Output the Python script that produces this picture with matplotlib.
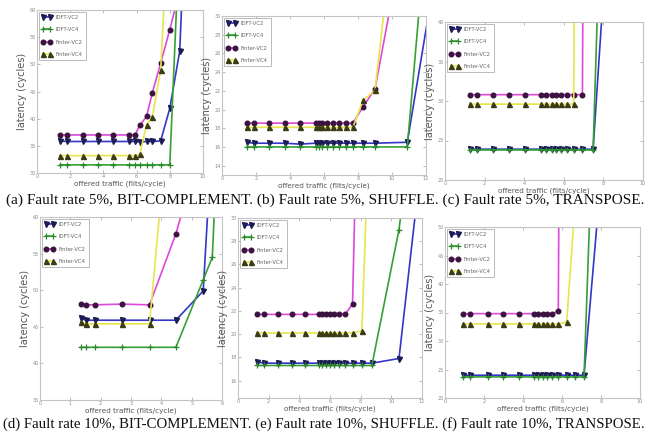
import matplotlib
matplotlib.use("Agg")
import matplotlib.pyplot as plt

W, H = 656, 434

labels = ["IDFT-VC2", "IDFT-VC4", "Finter-VC2", "Finter-VC4"]

# (a) fault rate 5%, bit-complement
a_x = [1.4, 1.8, 2.75, 3.7, 4.6, 5.55, 5.9, 6.2, 6.6, 6.95, 7.45, 8.0, 8.6, 9.2]
a_idft_vc2 = [35.9, 35.8, 35.8, 35.8, 35.8, 35.8, 35.8, 35.7, 35.8, 35.8, 35.9, 41.9, 52.5, 97.0]
a_idft_vc4 = [31.5, 31.5, 31.5, 31.5, 31.5, 31.5, 31.5, 31.5, 31.5, 31.5, 31.5, 31.5, 74.5]
a_finter_vc2 = [37.0, 37.0, 37.0, 37.0, 37.0, 37.0, 37.0, 38.8, 40.4, 44.8, 50.2, 56.4, 63.6]
a_finter_vc4 = [33.2, 33.2, 33.2, 33.2, 33.2, 33.2, 33.2, 33.5, 38.9, 40.3, 49.0, 81.0]

# (b) fault rate 5%, shuffle
b_x = [1.47, 1.86, 2.75, 3.7, 4.6, 5.5, 5.7, 5.9, 6.2, 6.5, 6.9, 7.3, 7.7, 8.3, 9.0, 10.9, 12.5]
b_idft_vc2 = [16.5, 16.4, 16.4, 16.4, 16.3, 16.4, 16.4, 16.4, 16.4, 16.4, 16.4, 16.4, 16.4, 16.4, 16.4, 16.5, 34.0]
b_idft_vc4 = [16.0, 16.0, 16.0, 16.0, 16.0, 16.0, 16.0, 16.0, 16.0, 16.0, 16.0, 16.0, 16.0, 16.0, 16.0, 16.0, 49.6]
b_finter_vc2 = [18.55, 18.55, 18.55, 18.55, 18.55, 18.55, 18.55, 18.55, 18.55, 18.55, 18.55, 18.55, 18.55, 20.3, 22.2, 40.7]
b_finter_vc4 = [18.1, 18.1, 18.1, 18.1, 18.1, 18.1, 18.1, 18.1, 18.1, 18.1, 18.1, 18.1, 18.1, 21.0, 22.05, 52.3]

# (c) fault rate 5%, transpose
c_x = [1.26, 1.6, 2.4, 3.24, 4.05, 4.87, 5.12, 5.38, 5.63, 5.88, 6.17, 6.5, 6.94, 7.48, 8.3]
c_idft_vc2 = [23.9, 23.9, 23.9, 23.9, 23.9, 23.9, 23.9, 23.9, 23.9, 23.9, 23.9, 23.9, 23.9, 23.9, 55.0]
c_idft_vc4 = [23.8, 23.8, 23.8, 23.8, 23.8, 23.8, 23.8, 23.8, 23.8, 23.8, 23.8, 23.8, 23.8, 23.8, 90.0]
c_finter_vc2 = [30.8, 30.8, 30.8, 30.8, 30.8, 30.8, 30.8, 30.8, 30.8, 30.8, 30.8, 30.8, 30.8, 300.0]
c_finter_vc4 = [29.6, 29.6, 29.6, 29.6, 29.6, 29.6, 29.6, 29.6, 29.6, 29.6, 29.6, 29.6, 300.0]

# (d) fault rate 10%, bit-complement
d_x = [1.34, 1.51, 1.80, 2.71, 3.61, 4.48, 5.38, 5.68, 6.2]
d_idft_vc2 = [46.2, 45.9, 45.9, 45.9, 45.9, 45.9, 49.9, 71.5]
d_idft_vc4 = [42.2, 42.2, 42.2, 42.2, 42.2, 42.2, 51.4, 54.5, 102.0]
d_finter_vc2 = [48.1, 48.0, 48.0, 48.1, 48.0, 57.7, 70.7]
d_finter_vc4 = [45.6, 45.4, 45.4, 45.4, 45.4, 85.0]

# (e) fault rate 10%, shuffle
e_x = [1.27, 1.70, 2.58, 3.49, 4.37, 5.28, 5.5, 5.72, 6.0, 6.29, 6.59, 6.99, 7.47, 8.08, 8.73, 10.5, 11.8]
e_idft_vc2 = [17.6, 17.5, 17.5, 17.5, 17.5, 17.5, 17.5, 17.5, 17.5, 17.5, 17.5, 17.5, 17.5, 17.5, 17.5, 17.9, 33.1]
e_idft_vc4 = [17.3, 17.3, 17.3, 17.3, 17.3, 17.3, 17.3, 17.3, 17.3, 17.3, 17.3, 17.3, 17.3, 17.3, 17.3, 29.0, 43.0]
e_finter_vc2 = [21.7, 21.7, 21.7, 21.7, 21.7, 21.7, 21.7, 21.7, 21.7, 21.7, 21.7, 21.7, 22.6, 57.0]
e_finter_vc4 = [20.1, 20.1, 20.1, 20.1, 20.1, 20.1, 20.1, 20.1, 20.1, 20.1, 20.1, 20.1, 20.1, 20.3, 44.4]

# (f) fault rate 10%, transpose
f_x = [0.94, 1.28, 2.22, 2.99, 3.81, 4.56, 4.79, 5.01, 5.21, 5.47, 5.81, 6.24, 6.67, 7.13, 7.9]
f_idft_vc2 = [24.0, 24.0, 24.0, 24.0, 24.0, 24.0, 24.0, 24.0, 24.0, 24.0, 24.0, 24.0, 24.0, 24.0, 54.8]
f_idft_vc4 = [23.7, 23.7, 23.7, 23.7, 23.7, 23.7, 23.7, 23.7, 23.7, 23.7, 23.7, 23.7, 23.7, 23.7, 98.4]
f_finter_vc2 = [34.8, 34.8, 34.8, 34.8, 34.8, 34.8, 34.8, 34.8, 34.8, 34.8, 35.2, 300.0]
f_finter_vc4 = [33.0, 33.0, 33.0, 33.0, 33.0, 33.0, 33.0, 33.0, 33.0, 33.0, 33.0, 33.3, 54.0]

caption_rows = [
    "(a) Fault rate 5%, BIT-COMPLEMENT. (b) Fault rate 5%, SHUFFLE. (c) Fault rate 5%, TRANSPOSE.",
    "(d) Fault rate 10%, BIT-COMPLEMENT. (e) Fault rate 10%, SHUFFLE. (f) Fault rate 10%, TRANSPOSE.",
]

styles = [
    dict(color="#3535c8", marker="v", mfc="#1c1c55", mec="#1c1c55", ms=3.6),
    dict(color="#35a035", marker="+", mfc="#2a8a2a", mec="#2a8a2a", ms=4.0, mew=0.9),
    dict(color="#dd48dd", marker="o", mfc="#3c1240", mec="#3c1240", ms=3.3),
    dict(color="#e6e64c", marker="^", mfc="#3c3c14", mec="#3c3c14", ms=3.6),
]

panels = [
    # x, series, (left, top, right, bottom) px, xlim, ylim, yticks, xticks
    (a_x, [a_idft_vc2, a_idft_vc4, a_finter_vc2, a_finter_vc4], (37, 10, 203, 173),
     (0, 10), (30, 60), range(30, 61, 5), range(0, 11, 2)),
    (b_x, [b_idft_vc2, b_idft_vc4, b_finter_vc2, b_finter_vc4], (222, 16, 426, 175),
     (0, 12), (13, 30), range(14, 31, 2), range(0, 13, 2)),
    (c_x, [c_idft_vc2, c_idft_vc4, c_finter_vc2, c_finter_vc4], (445, 22, 643, 180),
     (0, 10), (20, 40), range(20, 41, 5), range(0, 11, 2)),
    (d_x, [d_idft_vc2, d_idft_vc4, d_finter_vc2, d_finter_vc4], (40, 217, 222, 400),
     (0, 6), (35, 60), range(35, 61, 5), range(0, 7, 1)),
    (e_x, [e_idft_vc2, e_idft_vc4, e_finter_vc2, e_finter_vc4], (238, 218, 422, 398),
     (0, 12), (14.5, 30), range(16, 31, 2), range(0, 13, 2)),
    (f_x, [f_idft_vc2, f_idft_vc4, f_finter_vc2, f_finter_vc4], (445, 227, 640, 398),
     (0, 10), (20, 50), range(20, 51, 5), range(0, 11, 2)),
]

caption_pos = [(6, 200, 10.95), (3, 424, 10.7)]

fig = plt.figure(figsize=(W / 100, H / 100), dpi=100)
fig.patch.set_facecolor("white")

for (x, series, box, xlim, ylim, yticks, xticks) in panels:
    l, t, r, b = box
    ax = fig.add_axes([l / W, 1 - b / H, (r - l) / W, (b - t) / H])
    for y, lab, st in zip(series, labels, styles):
        ax.plot(x[:len(y)], y, label=lab, lw=1.2, clip_on=True, **st)
    ax.set_xlim(*xlim)
    ax.set_ylim(*ylim)
    ax.set_xticks(list(xticks))
    ax.set_yticks(list(yticks))
    for s in ax.spines.values():
        s.set_color("#c4c4c4")
        s.set_linewidth(0.8)
    ax.tick_params(direction="in", length=2, width=0.5, colors="#a0a0a0",
                   labelsize=3.5, labelcolor="#8a8a8a", top=True, right=True, pad=1)
    ax.set_ylabel("latency (cycles)", fontsize=7, color="#555555", labelpad=2)
    ax.set_xlabel("offered traffic (flits/cycle)", fontsize=5.2, color="#555555", labelpad=0.5)
    leg = ax.legend(loc="upper left", fontsize=3.8, numpoints=2, handlelength=1.8,
                    labelspacing=1.4, borderaxespad=0.3, borderpad=0.6,
                    fancybox=False, edgecolor="#b0b0b0", framealpha=1)
    leg.get_frame().set_linewidth(0.6)
    for txt in leg.get_texts():
        txt.set_color("#666666")

for cap, (cx, cy, fs) in zip(caption_rows, caption_pos):
    fig.text(cx / W, 1 - cy / H, cap, fontsize=fs, family="Liberation Serif",
             va="center", ha="left", color="#111111")

fig.savefig("out.png", dpi=100, facecolor="white")
